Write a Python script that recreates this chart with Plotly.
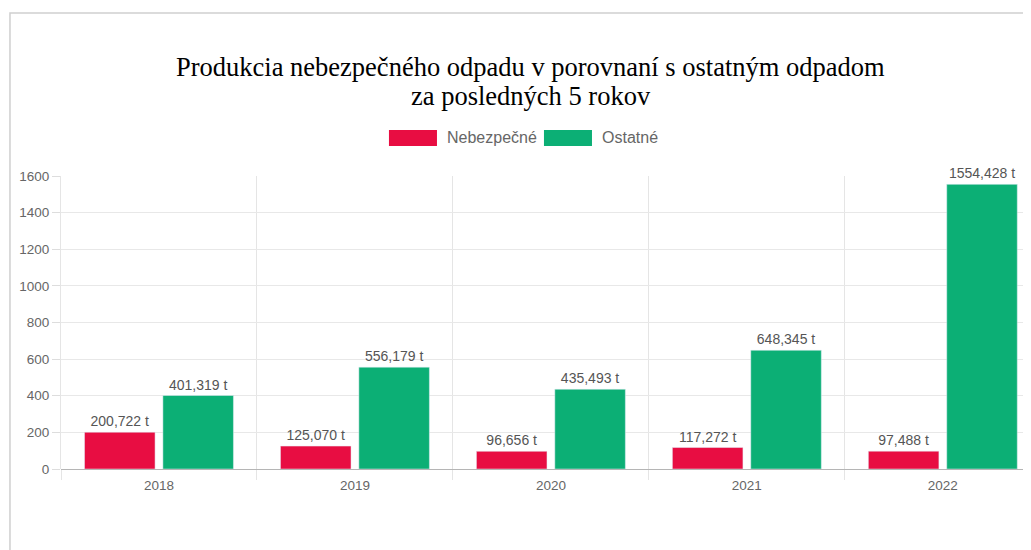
import plotly.graph_objects as go

# data (tons, comma = decimal separator)
roky = ["2018", "2019", "2020", "2021", "2022"]
nebezpecne = [200.722, 125.070, 96.656, 117.272, 97.488]
ostatne = [401.319, 556.179, 435.493, 648.345, 1554.428]
y_ticks = [0, 200, 400, 600, 800, 1000, 1200, 1400, 1600]

def popis(vals):
    return [f"{v:.3f}".replace(".", ",") + " t" for v in vals]

cervena = "#e80d42"
zelena = "#0caf75"
sans = "Liberation Sans, Arial, sans-serif"
serif = "Liberation Serif, Times New Roman, serif"

fig = go.Figure()
fig.add_trace(go.Bar(x=roky, y=nebezpecne, name="Nebezpečné", marker_color=cervena,
                     text=popis(nebezpecne), textposition="outside", cliponaxis=False,
                     textfont=dict(family=sans, size=14, color="#555")))
fig.add_trace(go.Bar(x=roky, y=ostatne, name="Ostatné", marker_color=zelena,
                     text=popis(ostatne), textposition="outside", cliponaxis=False,
                     textfont=dict(family=sans, size=14, color="#555")))

# page body has an 8px margin, so the figure is 8px smaller each way
fig.update_layout(
    width=1023, height=542,
    margin=dict(l=53, r=0, t=168, b=81),
    paper_bgcolor="white", plot_bgcolor="white",
    barmode="group", bargap=0.2, bargroupgap=0.1,
    showlegend=False,
    xaxis=dict(range=[-0.5, 4.45], tickson="boundaries", ticks="outside", ticklen=10,
               tickcolor="#e5e5e5", showgrid=True, gridcolor="#e5e5e5", ticklabelstandoff=6,
               tickfont=dict(family=sans, size=13.5, color="#666"), showline=False),
    yaxis=dict(range=[0, 1600], tickvals=y_ticks, ticks="outside", ticklen=8,
               tickcolor="#ddd", gridcolor="#e8e8e8", zeroline=True, zerolinecolor="#b5b5b5",
               zerolinewidth=1, showline=True, linecolor="#e5e5e5",
               tickfont=dict(family=sans, size=13.5, color="#666")),
    font=dict(family=sans),
)

# outer frame
fig.add_shape(type="rect", xref="paper", yref="paper", x0=-0.0526, x1=1.2, y0=-0.6, y1=1.556,
              line=dict(color="#cfcfcf", width=1.5), fillcolor="rgba(0,0,0,0)", layer="below")

# title, two lines
fig.add_annotation(text="Produkcia nebezpečného odpadu v porovnaní s ostatným odpadom",
                   xref="paper", yref="paper", x=0.4845, y=1.372, xanchor="center", yanchor="middle",
                   showarrow=False, font=dict(family=serif, size=26.5, color="black"))
fig.add_annotation(text="za posledných 5 rokov",
                   xref="paper", yref="paper", x=0.4845, y=1.273, xanchor="center", yanchor="middle",
                   showarrow=False, font=dict(family=serif, size=26.5, color="black"))

# legend boxes like the original
for nazov, farba, x0 in [("Nebezpečné", cervena, 0.3381), ("Ostatné", zelena, 0.4979)]:
    fig.add_shape(type="rect", xref="paper", yref="paper", x0=x0, x1=x0 + 0.0495,
                  y0=1.102, y1=1.157, fillcolor=farba, line=dict(width=0))
    fig.add_annotation(text=nazov, xref="paper", yref="paper", x=x0 + 0.0578, y=1.1297,
                       xanchor="left", yanchor="middle", showarrow=False,
                       font=dict(family=sans, size=16, color="#666"))

fig.write_html("out.html")
